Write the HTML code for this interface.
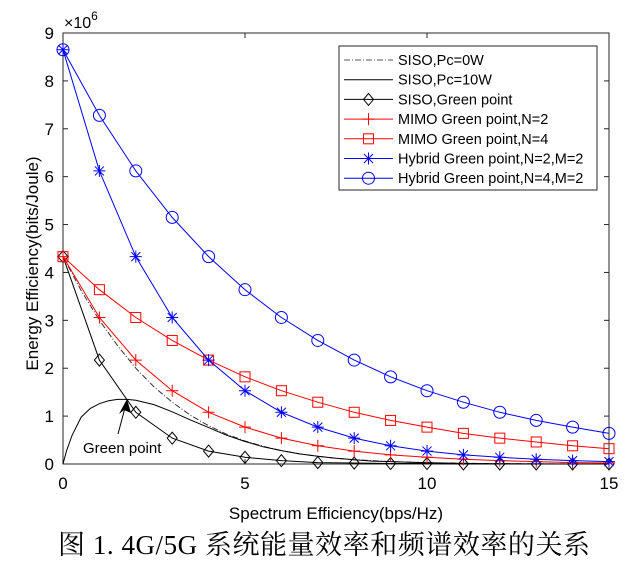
<!DOCTYPE html>
<html><head><meta charset="utf-8">
<style>
html,body{margin:0;padding:0;background:#fff;width:634px;height:565px;overflow:hidden}
svg{display:block}
text{font-family:"Liberation Sans",Arial,sans-serif;fill:#000}
.cap{font-family:"Liberation Serif","Noto Serif CJK SC",serif;font-size:27px}
</style></head><body>
<svg id="chart" width="634" height="565"></svg>
<script>
// data (values in units of 1e6 bits/Joule)
const xInt = [0,1,2,3,4,5,6,7,8,9,10,11,12,13,14,15];
const hybridN4 = [8.65,7.28,6.12,5.15,4.33,3.64,3.06,2.58,2.17,1.82,1.53,1.29,1.08,0.91,0.77,0.64];
const hybridN2 = [8.65,6.12,4.33,3.06,2.17,1.53,1.08,0.77,0.54,0.38,0.27,0.19,0.14,0.10,0.07,0.05];
const mimoN4 = [4.33,3.64,3.06,2.58,2.17,1.82,1.53,1.29,1.08,0.91,0.77,0.64,0.54,0.46,0.38,0.32];
const mimoN2 = [4.33,3.06,2.17,1.53,1.08,0.77,0.54,0.38,0.27,0.19,0.14,0.10,0.07,0.05,0.03,0.02];
const sisoGreen = [4.33,2.17,1.08,0.54,0.27,0.14,0.07,0.03,0.02,0.01,0.01,0,0,0,0,0];
const xHalf = [0,0.5,1,1.5,2,2.5,3,3.5,4,4.5,5,5.5,6,6.5,7,7.5,8,8.5,9,9.5,10,11,12,13,14,15];
const sisoPc0 = [4.33,3.62,3.0,2.47,2.0,1.61,1.29,1.02,0.80,0.62,0.48,0.37,0.28,0.21,0.16,0.12,0.09,0.07,0.05,0.04,0.03,0.015,0.008,0.004,0.002,0.001];
const xFine = [0,0.1,0.25,0.5,0.75,1,1.25,1.5,1.75,2,2.5,3,3.5,4,4.5,5,5.5,6,6.5,7,7.5,8,8.5,9,9.5,10,11,12,13,14,15];
const sisoPc10 = [0,0.28,0.6,0.98,1.16,1.26,1.32,1.35,1.35,1.33,1.24,1.09,0.92,0.76,0.60,0.47,0.36,0.28,0.21,0.16,0.12,0.09,0.06,0.05,0.035,0.025,0.012,0.006,0.003,0.001,0];
const xTicks = [0,5,10,15];
const yTicks = [0,1,2,3,4,5,6,7,8,9];
const legendLabels = ["SISO,Pc=0W","SISO,Pc=10W","SISO,Green point","MIMO Green point,N=2","MIMO Green point,N=4","Hybrid Green point,N=2,M=2","Hybrid Green point,N=4,M=2"];

const L=63,R=609,T=33,B=464;
const X=v=>L+(v/15)*(R-L);
const Y=v=>B-(v/9)*(B-T);
const svg=document.getElementById('chart');
const NS='http://www.w3.org/2000/svg';
function mk(tag,attrs,parent){const e=document.createElementNS(NS,tag);for(const k in attrs)e.setAttribute(k,attrs[k]);(parent||svg).appendChild(e);return e;}

const box=mk('rect',{x:L,y:T,width:R-L,height:B-T,fill:'none',stroke:'#262626','stroke-width':1});


xTicks.forEach(v=>{
  mk('line',{x1:X(v),x2:X(v),y1:B,y2:B-5,stroke:'#262626'});
  mk('line',{x1:X(v),x2:X(v),y1:T,y2:T+5,stroke:'#262626'});
  const t=mk('text',{x:X(v),y:B+25,'text-anchor':'middle','font-size':17});
  t.textContent=v;
  
  
});
yTicks.forEach(v=>{
  mk('line',{x1:L,x2:L+5,y1:Y(v),y2:Y(v),stroke:'#262626'});
  mk('line',{x1:R,x2:R-5,y1:Y(v),y2:Y(v),stroke:'#262626'});
  const t=mk('text',{x:L-9,y:Y(v)+6,'text-anchor':'end','font-size':17});
  t.textContent=v;
  
  
});
const ex=mk('text',{x:L+1,y:T-5,'font-size':16});
ex.innerHTML='×10<tspan dy="-8" font-size="12">6</tspan>';


const xt=mk('text',{x:(L+R)/2,y:B+55,'text-anchor':'middle','font-size':17});
xt.textContent='Spectrum Efficiency(bps/Hz)';


const yt=mk('text',{x:0,y:0,'text-anchor':'middle','font-size':17,transform:`translate(38,${(T+B)/2+15}) rotate(-90)`});
yt.textContent='Energy Efficiency(bits/Joule)';



function marker(type,cx,cy,color,g){
  if(type==='diamond')mk('path',{d:`M${cx},${cy-6}L${cx+5},${cy}L${cx},${cy+6}L${cx-5},${cy}Z`,fill:'none',stroke:color},g);
  else if(type==='plus'){mk('path',{d:`M${cx-6},${cy}H${cx+6}M${cx},${cy-6}V${cy+6}`,stroke:color},g);}
  else if(type==='square')mk('rect',{x:cx-5,y:cy-5,width:10,height:10,fill:'none',stroke:color},g);
  else if(type==='star')mk('path',{d:`M${cx-6},${cy}H${cx+6}M${cx},${cy-6}V${cy+6}M${cx-4.5},${cy-4.5}L${cx+4.5},${cy+4.5}M${cx-4.5},${cy+4.5}L${cx+4.5},${cy-4.5}`,stroke:color},g);
  else if(type==='circle')mk('circle',{cx,cy,r:6,fill:'none',stroke:color},g);
}
function series(name,xs,ys,color,dash,mtype){
  const g=mk('g',{});
  
  
  const d=xs.map((x,i)=>(i?'L':'M')+X(x).toFixed(1)+','+Y(ys[i]).toFixed(1)).join('');
  const p=mk('path',{d,fill:'none',stroke:color,'stroke-width':1},g);
  if(dash)p.setAttribute('stroke-dasharray',dash);
  if(mtype)xs.forEach((x,i)=>marker(mtype,X(x),Y(ys[i]),color,g));
}
series('siso-pc0-series',xHalf,sisoPc0,'#333','6,2,1,2',null);
series('siso-pc10-series',xFine,sisoPc10,'#000',null,null);
series('siso-green-series',xInt,sisoGreen,'#000',null,'diamond');
series('mimo-n2-series',xInt,mimoN2,'#f00',null,'plus');
series('mimo-n4-series',xInt,mimoN4,'#f00',null,'square');
series('hybrid-n2-series',xInt,hybridN2,'#00f',null,'star');
series('hybrid-n4-series',xInt,hybridN4,'#00f',null,'circle');

const ag=mk('g',{});


mk('line',{x1:118,y1:434,x2:126,y2:404,stroke:'#000'},ag);
mk('path',{d:'M127,399 L131,413 L124,410 L119,414 Z',fill:'#000'},ag);
const gt=mk('text',{x:83,y:453,'font-size':15},ag);
gt.textContent='Green point';

const lg=mk('g',{});


mk('rect',{x:339,y:46,width:258,height:144,fill:'#fff',stroke:'#262626'},lg);
const lc=['#555','#000','#000','#f00','#f00','#00f','#00f'];
const lm=[null,null,'diamond','plus','square','star','circle'];
legendLabels.forEach((lab,i)=>{
  const y=60+i*19.7;
  const e=mk('g',{},lg);
  
  
  const ln=mk('line',{x1:344,x2:393,y1:y,y2:y,stroke:lc[i]},e);
  if(i===0)ln.setAttribute('stroke-dasharray','6,2,1,2');
  if(lm[i])marker(lm[i],368.5,y,lc[i],e);
  const t=mk('text',{x:398,y:y+5,'font-size':14.5},e);
  t.textContent=lab;
});

const cap=mk('text',{x:58,y:554,'class':'cap','textLength':532,'lengthAdjust':'spacing'});
cap.textContent='图 1. 4G/5G 系统能量效率和频谱效率的关系';


</script>
</body></html>
